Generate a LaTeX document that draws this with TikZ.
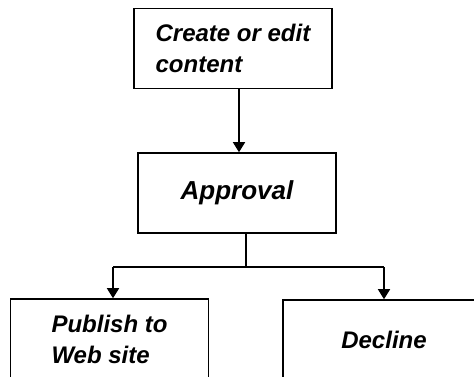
\documentclass[tikz,border=0pt]{standalone}
\usepackage{fontspec}
\setmainfont{Liberation Sans}
\usetikzlibrary{arrows.meta}
\begin{document}
\begin{tikzpicture}[x=1pt,y=-1pt,
  box/.style={draw=black,line width=1.6pt,rectangle,minimum width=198pt,minimum height=80pt,
    inner sep=0pt,align=left,font=\fontsize{24}{31}\selectfont\bfseries\itshape},
  conn/.style={line width=1.6pt,draw=black},
  arr/.style={conn,-{Triangle[width=12pt,length=10pt]}}]
\useasboundingbox (0,0) rectangle (474,376);
\clip (0,0) rectangle (474,376);
\node[box] (create) at (233,48.5) {Create or edit\\content};
\node[box,font=\fontsize{26}{31}\selectfont\bfseries\itshape] (approval) at (237,193) {Approval};
\node[box] (publish) at (109.5,339) {Publish to\\Web site};
\node[box,minimum width=202pt] (decline) at (384,340) {Decline};
\coordinate (split) at (246,267);
\coordinate (jl) at (113,267);
\coordinate (jr) at (384,267);
\coordinate (ax) at (239,0);
\draw[arr] (create.south -| ax) -- (approval.north -| ax);
\draw[conn] (approval.south -| split) -- (split);
\draw[conn] (jl) -- (jr);
\draw[arr] (jl) -- (jl |- publish.north);
\draw[arr] (jr) -- (decline.north);
\end{tikzpicture}
\end{document}
